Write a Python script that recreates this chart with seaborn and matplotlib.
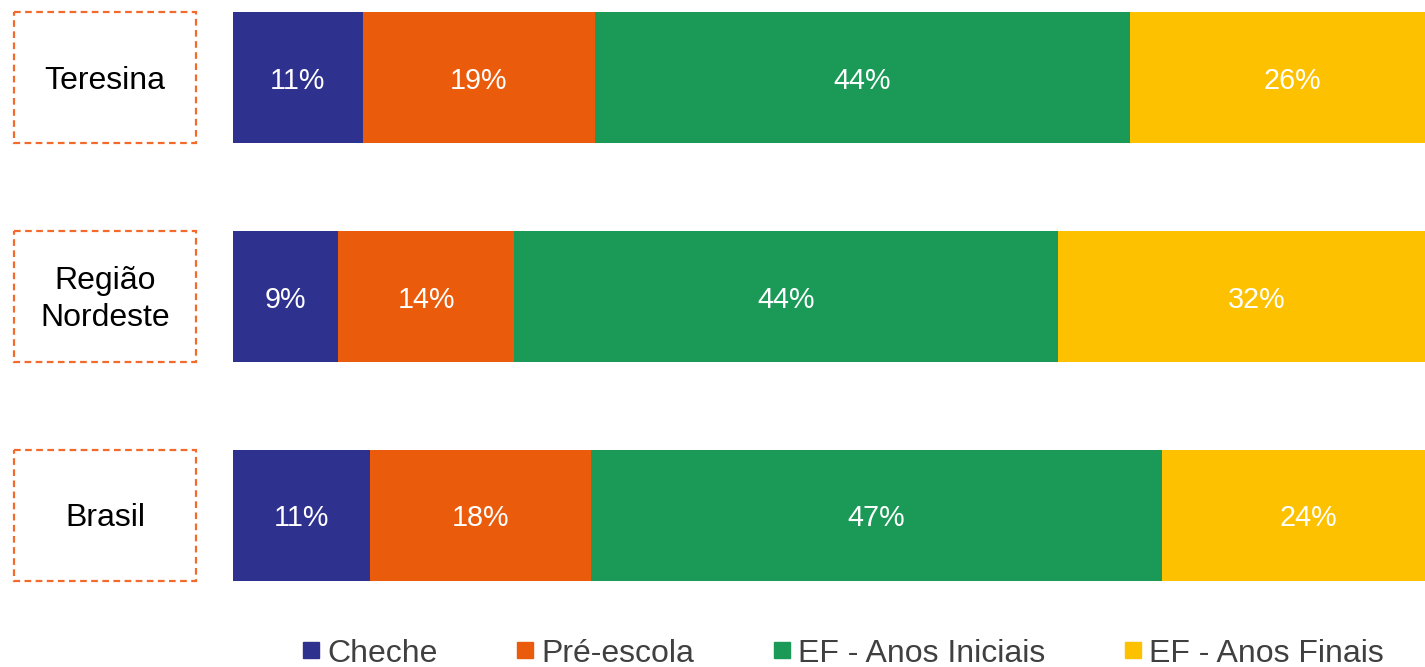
import matplotlib
matplotlib.use("Agg")
import matplotlib.pyplot as plt
import matplotlib.transforms as mtransforms
from matplotlib.patches import Rectangle
from matplotlib.lines import Line2D
import seaborn as sns
import pandas as pd
import numpy as np

sns.set_theme(style="white")
plt.rcParams['font.family'] = ['Liberation Sans', 'DejaVu Sans']

categories = ["Teresina", "Região\nNordeste", "Brasil"]
series = ["Cheche", "Pré-escola", "EF - Anos Iniciais", "EF - Anos Finais"]
cheche = [10.6, 8.6, 11.2]
pre_escola = [19.0, 14.4, 18.1]
ef_iniciais = [43.8, 44.5, 46.7]
ef_finais = [26.6, 32.5, 24.0]
labels_cheche = ["11%", "9%", "11%"]
labels_pre = ["19%", "14%", "18%"]
labels_ini = ["44%", "44%", "47%"]
labels_fin = ["26%", "32%", "24%"]
colors = ["#2E318E", "#EA5B0C", "#1A9A56", "#FDC100"]

values = [cheche, pre_escola, ef_iniciais, ef_finais]
labels = [labels_cheche, labels_pre, labels_ini, labels_fin]

W, H = 1425, 667
fig = plt.figure(figsize=(W / 100, H / 100), dpi=100)
ax = fig.add_axes([233 / W, (H - 581) / H, 1222 / W, 569 / H])

cum = np.cumsum(np.array(values), axis=0)
# draw from outermost (total) to innermost for stacking
for k in range(len(series) - 1, -1, -1):
    df = pd.DataFrame({"cat": categories, "val": cum[k]})
    sns.barplot(data=df, x="val", y="cat", orient="h", color=colors[k],
                width=0.6, ax=ax, saturation=1, edgecolor="none", linewidth=0)

# shift texts a few pixels down to centre visually
down = mtransforms.ScaledTranslation(0, -3 / 100, fig.dpi_scale_trans)

# segment labels
for k in range(len(series)):
    starts = cum[k] - np.array(values[k])
    for i in range(len(categories)):
        ax.text(starts[i] + values[k][i] / 2, i, labels[k][i], ha="center",
                va="center", color="white", fontsize=20.7,
                transform=ax.transData + down)

ax.set_xlim(0, 100)
ax.set_ylim(2.3, -0.3)
ax.axis("off")

# dashed category boxes on the left
trans = mtransforms.blended_transform_factory(fig.transFigure, ax.transData)
for i, c in enumerate(categories):
    rect = Rectangle((14 / W, i - 0.3), 182 / W, 0.6, transform=trans,
                     fill=False, edgecolor="#F26B2A", linewidth=1.6,
                     linestyle=(0, (3, 2)), clip_on=False)
    fig.add_artist(rect)
    t = plt.Text(105 / W, i, c, transform=trans + down, ha="center", va="center",
                 fontsize=23, color="black", linespacing=1.3)
    fig.add_artist(t)

handles = [Line2D([0], [0], marker="s", linestyle="none", markersize=11.5,
                  markerfacecolor=col, markeredgecolor=col) for col in colors]
leg = fig.legend(handles, series, loc="center", bbox_to_anchor=(843 / W, (H - 653.5) / H),
                 ncol=4, frameon=False, fontsize=23, handlelength=0.55,
                 handletextpad=0.25, columnspacing=2.45, borderpad=0)
for txt in leg.get_texts():
    txt.set_color("#404040")

fig.savefig("out.png", dpi=100)
